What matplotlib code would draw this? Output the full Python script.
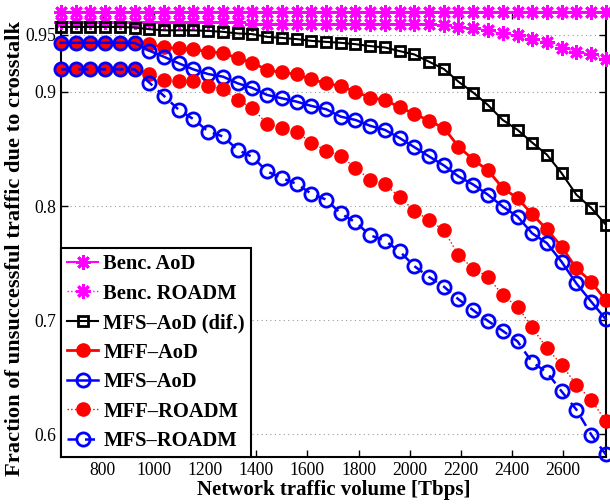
import matplotlib
matplotlib.use("Agg")
import matplotlib.pyplot as plt

plt.rcParams['font.family'] = ['Liberation Serif', 'DejaVu Serif']

traffic = [636, 694, 751, 809, 866, 924, 982, 1039, 1097, 1154, 1212, 1270,
           1327, 1385, 1442, 1500, 1558, 1615, 1673, 1730, 1788, 1846, 1903,
           1961, 2018, 2076, 2134, 2191, 2249, 2306, 2364, 2422, 2479, 2537,
           2594, 2652, 2710, 2767]

benc_aod = [0.97] * 38

benc_roadm = [0.961, 0.961, 0.961, 0.961, 0.961, 0.961, 0.961, 0.961, 0.961,
              0.961, 0.961, 0.961, 0.961, 0.960, 0.960, 0.960, 0.960, 0.960,
              0.960, 0.960, 0.960, 0.960, 0.960, 0.9594, 0.9594, 0.9594,
              0.9585, 0.9568, 0.956, 0.954, 0.9513, 0.9498, 0.9463, 0.944,
              0.9389, 0.9352, 0.9334, 0.9288]

mfs_aod_dif = [0.957, 0.957, 0.957, 0.957, 0.957, 0.9565, 0.955, 0.954, 0.954,
               0.954, 0.9535, 0.9527, 0.9513, 0.9507, 0.9483, 0.9474, 0.9463,
               0.9448, 0.9439, 0.9431, 0.9419, 0.9402, 0.939, 0.9358, 0.9329,
               0.9265, 0.9201, 0.909, 0.8994, 0.8886, 0.8755, 0.8668, 0.8557,
               0.845, 0.829, 0.810, 0.7984, 0.7838]

mff_aod = [0.9431, 0.9431, 0.9431, 0.9431, 0.9431, 0.9431, 0.9419, 0.939,
           0.9382, 0.9373, 0.9352, 0.9343, 0.9294, 0.9258, 0.9192, 0.9172,
           0.9155, 0.9111, 0.9076, 0.9052, 0.9003, 0.895, 0.893, 0.8866,
           0.8808, 0.8749, 0.8683, 0.8522, 0.8406, 0.8313, 0.8159, 0.8068,
           0.793, 0.7795, 0.7645, 0.7454, 0.7338, 0.7175]

mfs_aod = [0.9431, 0.9431, 0.9431, 0.9431, 0.9431, 0.9431, 0.9361, 0.9308,
           0.9251, 0.9198, 0.9157, 0.9134, 0.9076, 0.9035, 0.8974, 0.8945,
           0.8915, 0.8878, 0.8849, 0.8784, 0.8755, 0.8703, 0.8668, 0.8596,
           0.8517, 0.8435, 0.8356, 0.826, 0.8188, 0.81, 0.7996, 0.7908,
           0.7762, 0.7675, 0.7513, 0.7323, 0.7163, 0.7009]

mff_roadm = [0.9198, 0.9198, 0.9198, 0.9198, 0.9198, 0.9198, 0.9157, 0.9105,
             0.9099, 0.9099, 0.9055, 0.9026, 0.893, 0.8858, 0.8721, 0.8683,
             0.8648, 0.8557, 0.8487, 0.8441, 0.8334, 0.8231, 0.8194, 0.8077,
             0.7961, 0.7876, 0.7789, 0.757, 0.7452, 0.7382, 0.7218, 0.712,
             0.6936, 0.6755, 0.661, 0.6435, 0.6304, 0.6115]

mfs_roadm = [0.9198, 0.9198, 0.9198, 0.9198, 0.9198, 0.9198, 0.9081, 0.8965,
             0.8843, 0.8762, 0.8653, 0.861, 0.8493, 0.843, 0.8304, 0.8246,
             0.8194, 0.8109, 0.8057, 0.7936, 0.7858, 0.7744, 0.7697, 0.7603,
             0.7474, 0.7378, 0.7294, 0.7183, 0.7087, 0.6994, 0.6907, 0.6814,
             0.6631, 0.6543, 0.6377, 0.6217, 0.5998, 0.5824]

labels = ['Benc. AoD', 'Benc. ROADM', 'MFS\u2013AoD (dif.)', 'MFF\u2013AoD',
          'MFS\u2013AoD', 'MFF\u2013ROADM', 'MFS\u2013ROADM']
xticks = [800, 1000, 1200, 1400, 1600, 1800, 2000, 2200, 2400, 2600]
yticks = [0.6, 0.7, 0.8, 0.9, 0.95]
ytick_labels = ['0.6', '0.7', '0.8', '0.9', '0.95']

fig = plt.figure(figsize=(6.1, 5.04), dpi=100)
ax = fig.add_axes([0.1, 0.093, 0.893, 0.883])

ast = (8, 2, 0)
mag = (1, 0, 1)
ax.plot(traffic, benc_aod, color=mag, lw=1.5, marker=ast, ms=10.5, mew=2,
        label=labels[0], clip_on=False, zorder=3)
ax.plot(traffic, benc_roadm, color=mag, lw=1.0, ls=':', marker=ast, ms=10.5,
        mew=2, label=labels[1], clip_on=False, zorder=3)
ax.plot(traffic, mfs_aod_dif, color='k', lw=1.5, marker='s', ms=7.5, mew=2,
        mfc='none', label=labels[2], clip_on=False, zorder=3)
ax.plot(traffic, mff_aod, color='r', lw=2, marker='o', ms=9.5, mew=1,
        label=labels[3], clip_on=False, zorder=3)
ax.plot(traffic, mfs_aod, color='b', lw=1.8, marker='o', ms=9.5, mew=2,
        mfc='none', label=labels[4], clip_on=False, zorder=3)
ax.plot(traffic, mff_roadm, color='r', lw=1.0, ls=':', marker='o', ms=9.5,
        mew=1, label=labels[5], clip_on=False, zorder=3)
ax.plot(traffic, mfs_roadm, color='b', lw=1.8, ls=(0, (4, 3)), marker='o',
        ms=9.5, mew=2, mfc='none', label=labels[6], clip_on=False, zorder=3)

ax.set_xlim(636, 2767)
ax.set_ylim(0.58, 0.97)
ax.set_xticks(xticks)
ax.set_yticks(yticks)
ax.set_yticklabels(ytick_labels)
ax.tick_params(direction='in', length=5, width=1, top=True, right=True,
               labelsize=12.7)
ax.yaxis.grid(True, ls=(0, (1, 3)), color='0.6', lw=0.8)
ax.set_axisbelow(True)
for s in ax.spines.values():
    s.set_linewidth(1.5)

ax.set_xlabel('Network traffic volume [Tbps]', fontsize=15, fontweight='bold',
              labelpad=1)
ax.set_ylabel('Fraction of unsuccessful traffic due to crosstalk', fontsize=16.2,
              fontweight='bold')
ax.yaxis.set_label_coords(-0.067, 0.47)

leg = ax.legend(loc='lower left', borderaxespad=0, numpoints=1,
                prop={'weight': 'bold', 'size': 14.8}, fancybox=False,
                framealpha=1, edgecolor='k', handlelength=1.5,
                handletextpad=0.25, labelspacing=0.46, borderpad=0.3)
leg.get_frame().set_linewidth(1.5)
leg.set_zorder(5)

fig.savefig('out.png', dpi=100)
